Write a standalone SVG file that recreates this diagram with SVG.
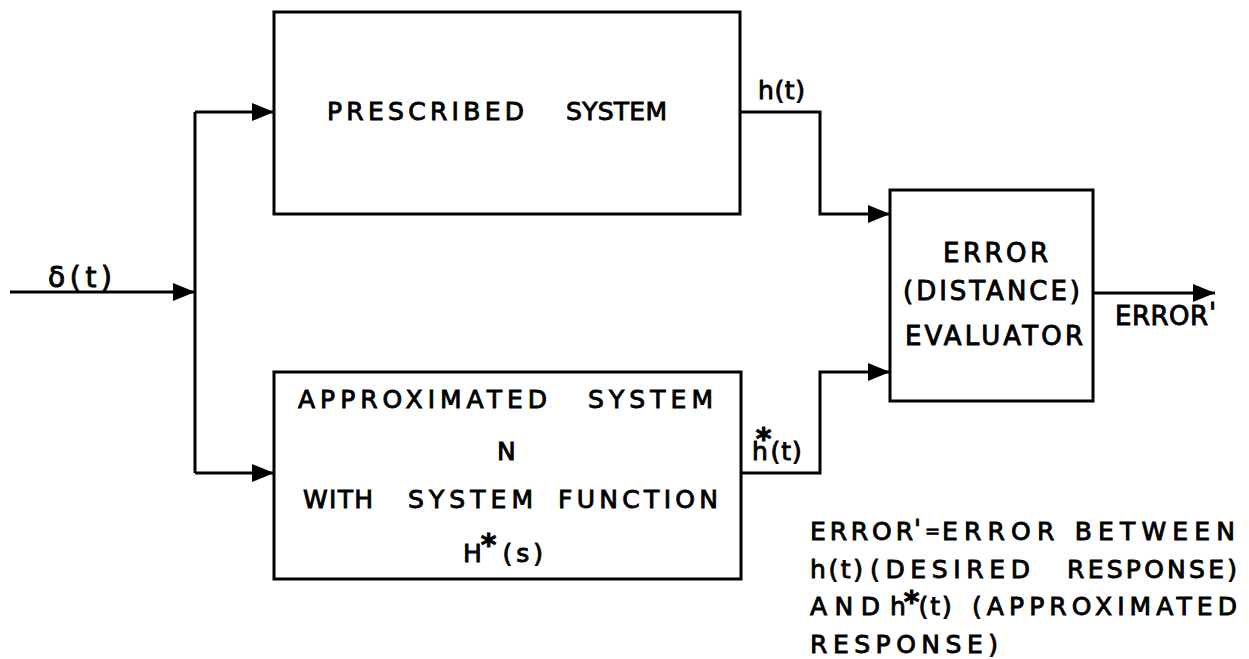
<svg xmlns="http://www.w3.org/2000/svg" width="1249" height="659" viewBox="0 0 1249 659">
  <defs>
    <style>
      .box { fill: none; stroke: #000; stroke-width: 3; }
      .wire { fill: none; stroke: #000; stroke-width: 3; stroke-linejoin: miter; marker-end: url(#arrow); }
      text { font-family: "DejaVu Sans", "Liberation Sans", sans-serif; fill: #000; stroke: #000; stroke-width: 0.9; }
      .t18 { font-size: 18px; }
      .t25 { font-size: 25px; }
      .t26 { font-size: 26px; }
      .t28 { font-size: 28px; }
      .star { font-weight: bold; font-size: 30px; }
    </style>
    <marker id="arrow" markerUnits="userSpaceOnUse" markerWidth="22" markerHeight="18" viewBox="0 0 22 18" refX="22" refY="9" orient="auto">
      <path d="M0,0 L22,9 L0,18 Z" fill="#000"/>
    </marker>
  </defs>

  <rect width="1249" height="659" fill="#fff"/>

  <!-- signal paths -->
  <g id="connectors">
    <path class="wire" d="M10,292 H195"/>
    <path fill="none" stroke="#000" stroke-width="3" d="M195,112 V473"/>
    <path class="wire" d="M195,112 H274"/>
    <path class="wire" d="M195,473 H274"/>
    <path class="wire" d="M740,112 H820 V214 H890"/>
    <path class="wire" d="M741,473 H820 V372 H890"/>
    <path class="wire" d="M1093,293 H1215"/>
  </g>

  <!-- reference system -->
  <g id="prescribed">
    <rect class="box" x="274" y="12" width="466" height="202"/>
    <text class="t25" x="327" y="120" textLength="197" lengthAdjust="spacing">PRESCRIBED</text>
    <text class="t25" x="566" y="120" textLength="101" lengthAdjust="spacing">SYSTEM</text>
  </g>

  <!-- approximating network -->
  <g id="approximated">
    <rect class="box" x="274" y="372" width="467" height="207"/>
    <text class="t25" x="298" y="408" textLength="249" lengthAdjust="spacing">APPROXIMATED</text>
    <text class="t25" x="588" y="408" textLength="125" lengthAdjust="spacing">SYSTEM</text>
    <text class="t25" x="497" y="460">N</text>
    <text class="t25" x="303" y="508" textLength="70" lengthAdjust="spacing">WITH</text>
    <text class="t25" x="408" y="508" textLength="125" lengthAdjust="spacing">SYSTEM</text>
    <text class="t25" x="558" y="508" textLength="160" lengthAdjust="spacing">FUNCTION</text>
    <text class="t25" x="463" y="562">H<tspan class="star" dx="-1" dy="-7">*</tspan><tspan dx="6" dy="7" letter-spacing="4">(s)</tspan></text>
  </g>

  <!-- error evaluator -->
  <g id="evaluator">
    <rect class="box" x="890" y="190" width="203" height="211"/>
    <text class="t26" x="943" y="262" textLength="105" lengthAdjust="spacing">ERROR</text>
    <text class="t26" x="903" y="300" textLength="177" lengthAdjust="spacing">(DISTANCE)</text>
    <text class="t26" x="905" y="345" textLength="178" lengthAdjust="spacing">EVALUATOR</text>
  </g>

  <!-- signal labels -->
  <g id="labels">
    <text class="t28" x="48" y="287" textLength="64" lengthAdjust="spacing">δ(t)</text>
    <text class="t25" x="758" y="99" textLength="47" lengthAdjust="spacing">h(t)</text>
    <text class="t25" x="752" y="460">h<tspan class="star" dx="-12" dy="-11">*</tspan><tspan dx="-1" dy="11" letter-spacing="1">(t)</tspan></text>
    <text class="t26" x="1115" y="325" textLength="93" lengthAdjust="spacing">ERROR</text>
    <text class="t26" x="1209" y="322">'</text>
  </g>

  <!-- legend -->
  <g id="note">
    <text class="t25" x="810" y="540" textLength="103" lengthAdjust="spacing">ERROR</text>
    <text class="t25" x="914" y="537">'</text>
    <text class="t18" x="925" y="537">=</text>
    <text class="t25" x="942" y="540" textLength="293" lengthAdjust="spacing">ERROR BETWEEN</text>

    <text class="t25" x="810" y="578" textLength="53" lengthAdjust="spacing">h(t)</text>
    <text class="t25" x="870" y="578" textLength="160" lengthAdjust="spacing">(DESIRED</text>
    <text class="t25" x="1067" y="578" textLength="170" lengthAdjust="spacing">RESPONSE)</text>

    <text class="t25" x="810" y="615" textLength="70" lengthAdjust="spacing">AND</text>
    <text class="t25" x="890" y="615">h<tspan class="star" dx="-2" dy="-3">*</tspan><tspan dx="-1" dy="3" letter-spacing="2">(t)</tspan></text>
    <text class="t25" x="972" y="615" textLength="265" lengthAdjust="spacing">(APPROXIMATED</text>

    <text class="t25" x="810" y="653" textLength="188" lengthAdjust="spacing">RESPONSE)</text>
  </g>
</svg>
